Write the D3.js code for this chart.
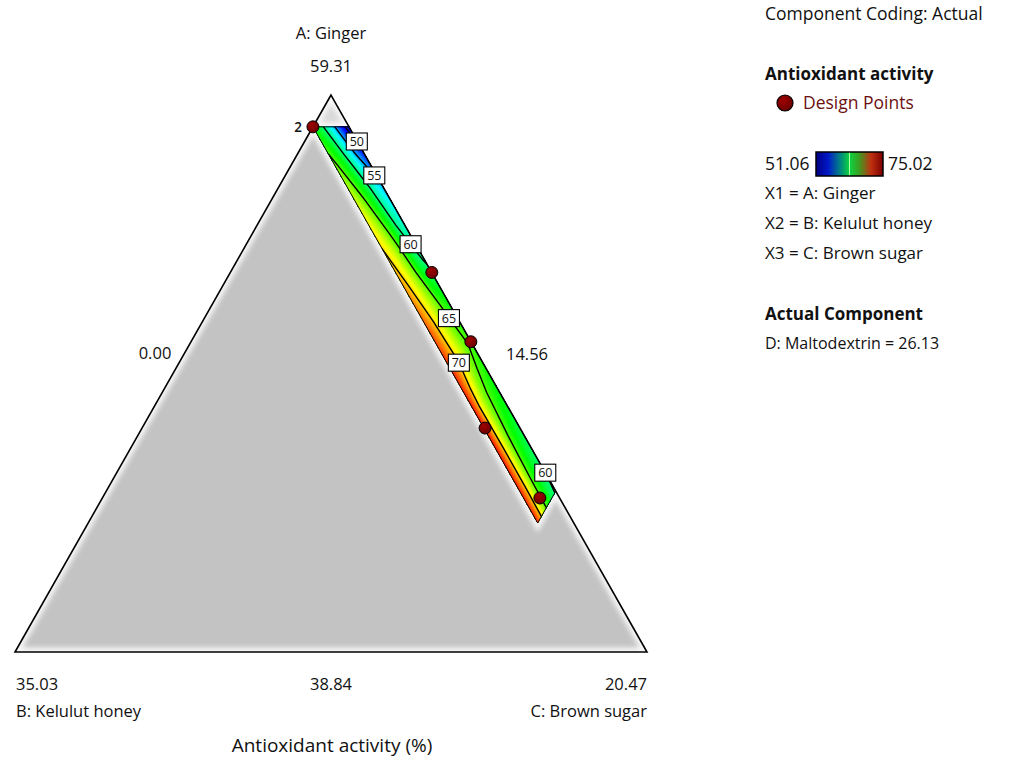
<!DOCTYPE html>
<html><head><meta charset="utf-8">
<script src="https://cdn.jsdelivr.net/npm/d3@7"></script>
<style>
body{margin:0;background:#fff}
svg{display:block}
text{font-family:"Open Sans","Noto Sans",sans-serif;fill:#111}
</style>
</head><body>
<svg id="chart" width="1013" height="761"></svg>
<script>
// Mixture components in actual units (D: Maltodextrin held at 26.13)
const componentNames = ["A: Ginger", "B: Kelulut honey", "C: Brown sugar"];
const componentLow = [38.84, 14.56, 0.00];
const componentHigh = [59.31, 35.03, 20.47];
const mixtureTotal = 73.87;
const fixedComponent = "D: Maltodextrin = 26.13";

// Constrained design space
const gingerMax = 58.14;
const honeyMax = 15.73;
const sugarMax = 14.56;

// Fitted antioxidant activity (%) on a honey x brown-sugar grid
const gridHoney = [14.56, 14.8525, 15.145, 15.4375, 15.73];
const gridSugar = [0, 1.5, 3, 4.5, 6, 7.5, 9, 10.5, 12, 13.5, 15];
const gridResponse = [
  [44.0, 50.0, 55.5, 60.0, 63.0],
  [49.0, 54.0, 58.8, 62.8, 66.0],
  [54.5, 58.0, 62.0, 65.5, 68.5],
  [57.5, 60.0, 64.3, 67.5, 70.0],
  [59.5, 62.0, 66.0, 69.0, 71.5],
  [62.8, 64.8, 67.5, 70.3, 73.0],
  [64.3, 65.8, 68.3, 71.0, 74.0],
  [63.0, 64.2, 66.0, 69.3, 74.5],
  [61.5, 63.0, 65.5, 69.5, 74.5],
  [60.3, 62.0, 65.0, 69.5, 74.2],
  [59.3, 61.3, 64.5, 69.0, 73.8]
];
const responseMin = 51.06, responseMax = 75.02;
const contourLevels = [50, 55, 60, 65, 70, 75];

// Contour labels: level and brown-sugar amount where the tag sits
const labelLevels = [50, 55, 60, 65, 70, 60];
const labelSugar = [1.69, 2.88, 5.32, 7.92, 9.06, 13.88];

// Design points (A, B, C) in actual units
const pointGinger = [58.14, 52.80, 50.23, 47.07, 44.50];
const pointHoney  = [15.73, 14.56, 14.56, 15.69, 15.20];
const pointSugar  = [0.00, 6.52, 9.07, 11.11, 14.17];
const pointReps   = [2, 1, 1, 1, 1];

const svg = d3.select("#chart");
const defs = svg.append("defs");

// Triangle vertices on the page
const vA = [331, 95], vB = [15, 652], vC = [647, 652];
const pseudo = componentLow.map((lo, i) => d3.scaleLinear().domain([lo, componentHigh[i]]).range([0, 1]));
function project(A, B, C) {
  const a = pseudo[0](A), b = pseudo[1](B), c = pseudo[2](C);
  return [a * vA[0] + b * vB[0] + c * vC[0], a * vA[1] + b * vB[1] + c * vC[1]];
}
const byBC = (B, C) => project(mixtureTotal - B - C, B, C);

const colour = d3.scaleLinear()
  .domain([46, responseMin, 57.05, 63.04, 69.03, responseMax])
  .range(["#00008c", "#0000ff", "#00ffff", "#00ff00", "#ffff00", "#ff0000"])
  .clamp(true);

// Region polygons
const stripPts = [byBC(honeyMax, 0), byBC(componentLow[1], mixtureTotal - gingerMax - componentLow[1]),
  byBC(componentLow[1], sugarMax), byBC(honeyMax, sugarMax)];
const tipPts = [vA, stripPts[0], stripPts[1]];
const grayPts = [stripPts[0], vB, vC, stripPts[2], stripPts[3]];

const line = d3.line();

// soft inner glow for shaded areas
const blur = defs.append("filter").attr("id", "soft").attr("x", "-10%").attr("y", "-10%").attr("width", "120%").attr("height", "120%");
blur.append("feGaussianBlur").attr("stdDeviation", 2.5);

function shaded(pts, fill, id) {
  defs.append("clipPath").attr("id", id).append("path").attr("d", line(pts) + "Z");
  const g = svg.append("g").attr("clip-path", `url(#${id})`);
  g.append("path").attr("d", line(pts) + "Z").attr("fill", fill);
  g.append("path").attr("d", line(pts) + "Z").attr("fill", "none")
    .attr("stroke", "#f6f6f6").attr("stroke-width", 9).attr("filter", "url(#soft)");
}
shaded(grayPts, "#c3c3c3", "clipGray");
shaded(tipPts, "#d8d8d8", "clipTip");

// Response surface inside the design space
defs.append("clipPath").attr("id", "clipStrip").append("path").attr("d", line(stripPts) + "Z");
const nx = gridHoney.length, ny = gridSugar.length;
const flat = gridResponse.flat();
const gxToHoney = d3.scaleLinear().domain([0.5, nx - 0.5]).range([gridHoney[0], gridHoney[nx - 1]]);
const gyToSugar = d3.scaleLinear().domain([0.5, ny - 0.5]).range([gridSugar[0], gridSugar[ny - 1]]);
const gridPath = d3.geoPath(d3.geoTransform({
  point(x, y) { const p = byBC(gxToHoney(x), gyToSugar(y)); this.stream.point(p[0], p[1]); }
}));
const step = 0.2;
const bands = d3.range(40, 80, step);
const surf = svg.append("g").attr("clip-path", "url(#clipStrip)");
surf.selectAll("path.band")
  .data(d3.contours().size([nx, ny]).thresholds(bands)(flat))
  .join("path").attr("class", "band")
  .attr("d", gridPath).attr("fill", d => colour(d.value + step / 2))
  .attr("stroke", d => colour(d.value + step / 2)).attr("stroke-width", 0.4);
surf.selectAll("path.iso")
  .data(d3.contours().size([nx, ny]).thresholds(contourLevels)(flat))
  .join("path").attr("class", "iso")
  .attr("d", gridPath).attr("fill", "none").attr("stroke", "#000").attr("stroke-width", 1.4);
svg.append("path").attr("d", line(stripPts) + "Z").attr("fill", "none").attr("stroke", "#000").attr("stroke-width", 1);

// Triangle outline
svg.append("path").attr("d", line([vA, vB, vC]) + "Z").attr("fill", "none")
  .attr("stroke", "#000").attr("stroke-width", 1.6).attr("stroke-linejoin", "miter");

// Bilinear read of the grid, used to place the contour tags on their lines
function valueAt(B, C) {
  const fx = Math.max(0, Math.min(nx - 1.0001, (B - gridHoney[0]) / (gridHoney[1] - gridHoney[0])));
  const fy = Math.max(0, Math.min(ny - 1.0001, (C - gridSugar[0]) / (gridSugar[1] - gridSugar[0])));
  const i = Math.floor(fx), j = Math.floor(fy), u = fx - i, v = fy - j;
  const g = (r, c) => gridResponse[r][c];
  return (1 - u) * (1 - v) * g(j, i) + u * (1 - v) * g(j, i + 1) + (1 - u) * v * g(j + 1, i) + u * v * g(j + 1, i + 1);
}
labelLevels.forEach((lev, k) => {
  const C = labelSugar[k];
  let lo = componentLow[1], hi = honeyMax;
  for (let it = 0; it < 40; it++) {
    const mid = (lo + hi) / 2;
    if (valueAt(mid, C) < lev) lo = mid; else hi = mid;
  }
  const p = byBC((lo + hi) / 2, C);
  const g = svg.append("g").attr("transform", `translate(${p[0]},${p[1]})`);
  g.append("rect").attr("x", -10.5).attr("y", -8.5).attr("width", 21).attr("height", 17)
    .attr("fill", "#fff").attr("stroke", "#000").attr("stroke-width", 1.1);
  g.append("text").attr("text-anchor", "middle").attr("y", 4.5).attr("font-size", 12.5).text(lev);
});

// Design points
const ballGrad = defs.append("radialGradient").attr("id", "ball").attr("cx", "40%").attr("cy", "35%").attr("r", "65%");
ballGrad.append("stop").attr("offset", "0%").attr("stop-color", "#a00000");
ballGrad.append("stop").attr("offset", "100%").attr("stop-color", "#6a0000");
pointGinger.forEach((A, i) => {
  const p = project(A, pointHoney[i], pointSugar[i]);
  svg.append("circle").attr("cx", p[0]).attr("cy", p[1]).attr("r", 6)
    .attr("fill", "url(#ball)").attr("stroke", "#000").attr("stroke-width", 1);
  if (pointReps[i] > 1) svg.append("text").attr("x", p[0] - 11).attr("y", p[1] + 5)
    .attr("text-anchor", "end").attr("font-size", 13.5).attr("font-weight", 600).text(pointReps[i]);
});

// Vertex and edge annotations
const t = (x, y, s, opts = {}) => svg.append("text").attr("x", x).attr("y", y)
  .attr("text-anchor", opts.anchor || "middle").attr("font-size", opts.size || 16.5)
  .attr("font-weight", opts.weight || "normal").style("fill", opts.fill || "#111").text(s);
const fmt = d3.format(".2f");
t(331, 39, componentNames[0]);
t(331, 72, fmt(componentHigh[0]));
t(16, 690, fmt(componentHigh[1]), { anchor: "start" });
t(647, 690, fmt(componentHigh[2]), { anchor: "end" });
t(16, 717, componentNames[1], { anchor: "start" });
t(647, 717, componentNames[2], { anchor: "end" });
t(155, 359, fmt(componentLow[2]));
t(527, 360, fmt(componentLow[1]));
t(331, 690, fmt(componentLow[0]));
t(332, 752, "Antioxidant activity (%)", { size: 19 });

// Legend block
t(765, 20, "Component Coding: Actual", { anchor: "start", size: 17.5 });
t(765, 80, "Antioxidant activity", { anchor: "start", size: 17, weight: "bold" });
svg.append("circle").attr("cx", 785).attr("cy", 103).attr("r", 8).attr("fill", "url(#ball)").attr("stroke", "#000").attr("stroke-width", 1.2);
t(803, 109, "Design Points", { anchor: "start", size: 17.5, fill: "#6b1010" });
t(765, 170, fmt(responseMin), { anchor: "start", size: 17.5 });
const lg = defs.append("linearGradient").attr("id", "bar");
[[0, "#000080"], [0.18, "#0018c8"], [0.38, "#00907a"], [0.49, "#10d040"], [0.5, "#b0ffb0"], [0.51, "#10d040"],
 [0.64, "#3aa020"], [0.82, "#c03010"], [1, "#7a0000"]].forEach(([o, c]) =>
  lg.append("stop").attr("offset", o).attr("stop-color", c));
svg.append("rect").attr("x", 816).attr("y", 152).attr("width", 67).attr("height", 24)
  .attr("fill", "url(#bar)").attr("stroke", "#000").attr("stroke-width", 1.5);
t(888, 170, fmt(responseMax), { anchor: "start", size: 17.5 });
componentNames.forEach((n, i) => t(765, 199 + 30 * i, `X${i + 1} = ${n}`, { anchor: "start", size: 17 }));
t(765, 320, "Actual Component", { anchor: "start", size: 17, weight: "bold" });
t(765, 349, fixedComponent, { anchor: "start", size: 16 });
</script>
</body></html>
